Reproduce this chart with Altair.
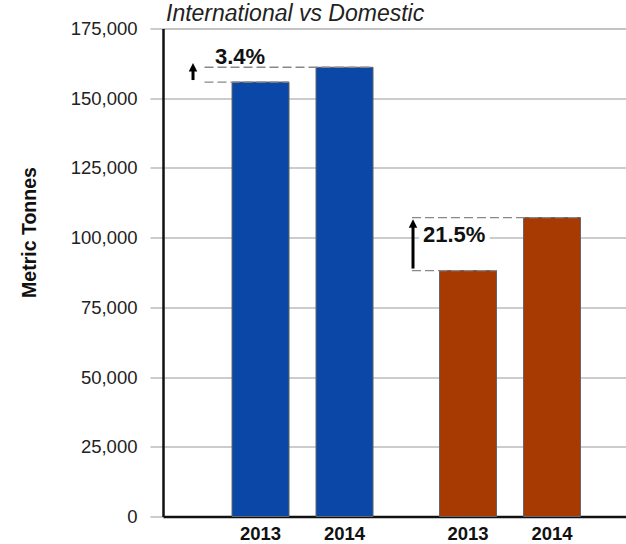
import altair as alt
import pandas as pd

# ---- data ----
regions = ["International", "Domestic"]
years = ["2013", "2014"]
international = [155800, 161100]
domestic = [88200, 107200]
changes = ["3.4%", "21.5%"]
colors = ["#0a47a6", "#a63a02"]

series = {"International": international, "Domestic": domestic}
bars_df = pd.DataFrame({
    "Region": [r for r in regions for _ in years],
    "Year": years * len(regions),
    "Tonnes": international + domestic,
})
ann_df = pd.DataFrame({
    "Region": regions,
    "Low": [series[r][0] for r in regions],
    "High": [series[r][1] for r in regions],
    "Change": changes,
})

FONT = "Liberation Sans"
YTITLE = "Metric Tonnes"

x_scale = alt.Scale(domain=regions, paddingInner=0, paddingOuter=0.1157, align=0.745)
xo_scale = alt.Scale(domain=years, paddingInner=0.3214, paddingOuter=0.3958)
y_scale = alt.Scale(domain=[0, 175000], nice=False)

x_enc = alt.X("Region:N", scale=x_scale, title=None,
              axis=alt.Axis(labels=False, ticks=False, grid=False,
                            domainColor="#111", domainWidth=2.5))
y_axis = alt.Axis(values=list(range(0, 175001, 25000)), format=",d",
                  labelFont=FONT, labelFontSize=18.5, labelColor="#222",
                  labelPadding=13, tickSize=13, tickColor="#999", tickWidth=1,
                  grid=True, gridColor="#999", gridWidth=1,
                  domainColor="#111", domainWidth=2.5,
                  titleFont=FONT, titleFontSize=19.5, titleFontWeight="bold",
                  titleColor="#111", titleAngle=270, titleX=-134, titleY=203.5,
                  titleAlign="center", titleBaseline="middle")

bars = alt.Chart(bars_df).mark_bar(stroke="#666", strokeWidth=1).encode(
    x=x_enc,
    xOffset=alt.XOffset("Year:N", scale=xo_scale),
    y=alt.Y("Tonnes:Q", scale=y_scale, axis=y_axis, title=YTITLE),
    color=alt.Color("Region:N", scale=alt.Scale(domain=regions, range=colors), legend=None),
)

year_labels = alt.Chart(bars_df).mark_text(
    font=FONT, fontSize=18.5, fontWeight="bold", color="#111",
    baseline="middle", align="center", dy=17,
).encode(
    x=alt.X("Region:N"),
    xOffset=alt.XOffset("Year:N"),
    y=alt.datum(0),
    text="Year:N",
)

dash_low = alt.Chart(ann_df).mark_rule(
    strokeDash=[9, 4], color="#888", strokeWidth=1.3, xOffset=-98, x2Offset=-13.5
).encode(x=alt.X("Region:N"), x2=alt.X2("Region"), y=alt.Y("Low:Q", title=YTITLE))

dash_high = alt.Chart(ann_df).mark_rule(
    strokeDash=[9, 4], color="#888", strokeWidth=1.3, xOffset=-98, x2Offset=70.5
).encode(x=alt.X("Region:N"), x2=alt.X2("Region"), y=alt.Y("High:Q", title=YTITLE))

style = {
    "International": dict(arrow_dx=-109.5, head_dy=0, label_dx=-87.5, label_dy=-10, halo=False),
    "Domestic": dict(arrow_dx=-97, head_dy=6, label_dx=-87, label_dy=17, halo=True),
}

ann_layers = []
for r in regions:
    s = style[r]
    base = alt.Chart(ann_df).transform_filter(alt.datum.Region == r)
    shaft = base.mark_rule(color="#000", strokeWidth=3, xOffset=s["arrow_dx"],
                           yOffset=-2, y2Offset=s["head_dy"]).encode(
        x=alt.X("Region:N"), y=alt.Y("Low:Q", title=YTITLE), y2=alt.Y2("High"))
    head = base.mark_point(shape="M0,-1L1,1L-1,1Z", filled=True, size=72, color="#000",
                           opacity=1, strokeWidth=0, xOffset=s["arrow_dx"],
                           yOffset=s["head_dy"]).encode(
        x=alt.X("Region:N"), y=alt.Y("High:Q", title=YTITLE))
    if s["halo"]:
        halo = base.mark_text(font=FONT, fontSize=22, fontWeight="bold", align="left",
                              baseline="middle", dx=s["label_dx"], dy=s["label_dy"],
                              color="white", stroke="white", strokeWidth=10).encode(
            x=alt.X("Region:N"), y=alt.Y("High:Q", title=YTITLE), text="Change:N")
        ann_layers.append(halo)
    label = base.mark_text(font=FONT, fontSize=22, fontWeight="bold", align="left",
                           baseline="middle", dx=s["label_dx"], dy=s["label_dy"],
                           color="#111").encode(
        x=alt.X("Region:N"), y=alt.Y("High:Q", title=YTITLE), text="Change:N")
    ann_layers += [shaft, head, label]

chart = alt.layer(bars, year_labels, dash_low, dash_high, *ann_layers).properties(
    width=463, height=488,
    title=alt.TitleParams("International vs Domestic", anchor="start", frame="group",
                          font=FONT, fontSize=23, fontStyle="italic", fontWeight="normal",
                          color="#222", baseline="alphabetic", offset=0, dx=3, dy=24),
    autosize=alt.AutoSizeParams(type="none"),
    padding={"left": 163, "top": 28.5, "right": 0, "bottom": 27.5},
).configure_view(stroke=None).configure(background="white")

chart.save("out.html", embed_options={"renderer": "svg", "actions": False})
